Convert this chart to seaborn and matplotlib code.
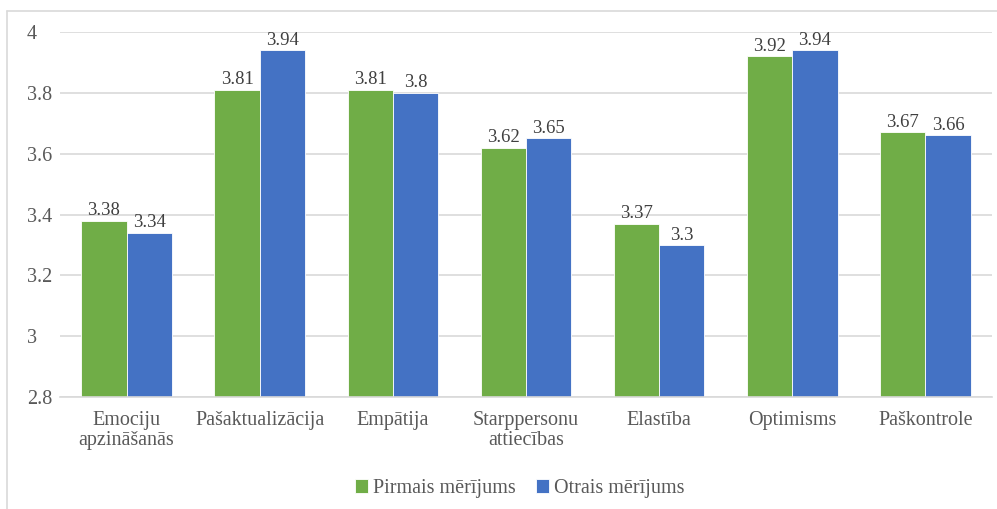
import matplotlib
matplotlib.use("Agg")
import matplotlib.pyplot as plt
from matplotlib.lines import Line2D
import seaborn as sns
import pandas as pd

categories = ["Emociju\napzināšanās", "Pašaktualizācija", "Empātija",
              "Starppersonu\nattiecības", "Elastība", "Optimisms", "Paškontrole"]
series_names = ["Pirmais mērījums", "Otrais mērījums"]
first_values = [3.38, 3.81, 3.81, 3.62, 3.37, 3.92, 3.67]
second_values = [3.34, 3.94, 3.80, 3.65, 3.30, 3.94, 3.66]
y_ticks = [2.8, 3.0, 3.2, 3.4, 3.6, 3.8, 4.0]
y_tick_labels = ["2.8", "3", "3.2", "3.4", "3.6", "3.8", "4"]

df = pd.DataFrame({
    "kategorija": categories * 2,
    "mērījums": [series_names[0]] * len(categories) + [series_names[1]] * len(categories),
    "vērtība": first_values + second_values,
})

sns.set_theme(style="white")
plt.rcParams["font.serif"] = ["Liberation Serif", "DejaVu Serif"]
plt.rcParams["font.family"] = "serif"

text_color = "#595959"
grid_color = "#d9d9d9"
palette = {series_names[0]: "#70AD47", series_names[1]: "#4472C4"}

fig = plt.figure(figsize=(9.97, 5.09), dpi=100)
ax = fig.add_axes([60 / 997, 1 - 397 / 509, 932 / 997, 365 / 509])

sns.barplot(data=df, x="kategorija", y="vērtība", hue="mērījums",
            palette=palette, width=0.68, ax=ax, saturation=1,
            edgecolor="white", linewidth=0.6, legend=True)

ax.set_ylim(2.8, 4.0)
ax.set_yticks(y_ticks)
ax.set_yticklabels(y_tick_labels)
ax.set_xlabel("")
ax.set_ylabel("")
ax.yaxis.grid(True, color=grid_color, linewidth=1.2)
ax.set_axisbelow(True)
for side in ["top", "right", "left"]:
    ax.spines[side].set_visible(False)
ax.spines["bottom"].set_color(grid_color)
ax.spines["bottom"].set_linewidth(1.2)
ax.tick_params(axis="both", length=0, labelsize=14.5, colors=text_color)
ax.tick_params(axis="x", pad=10)
ax.tick_params(axis="y", pad=24)
for lbl in ax.get_yticklabels():
    lbl.set_horizontalalignment("left")
for lbl in ax.get_xticklabels():
    lbl.set_linespacing(1.05)

for container in ax.containers:
    ax.bar_label(container, labels=[f"{v:g}" for v in container.datavalues],
                 fontsize=13.5, color="#404040", padding=1)

handles, labels = ax.get_legend_handles_labels()
ax.legend(handles, labels, loc="center", bbox_to_anchor=(0.493, -0.25),
          ncol=2, frameon=False, fontsize=14.5, labelcolor=text_color,
          handlelength=0.65, handleheight=0.7, handletextpad=0.25, columnspacing=1.0)

# light frame along the top and left edges of the figure
fig.add_artist(Line2D([7 / 997, 1], [1 - 11 / 509, 1 - 11 / 509],
                      transform=fig.transFigure, color="#d9d9d9", linewidth=1.2))
fig.add_artist(Line2D([7 / 997, 7 / 997], [0, 1 - 11 / 509],
                      transform=fig.transFigure, color="#d9d9d9", linewidth=1.2))

fig.savefig("out.png", dpi=100)
